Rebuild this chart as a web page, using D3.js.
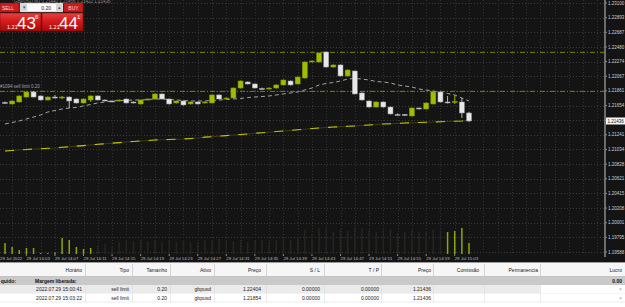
<!DOCTYPE html>
<html>
<head>
<meta charset="utf-8">
<script src="https://cdn.jsdelivr.net/npm/d3@7"></script>
<style>
body { margin: 0; background: #fff; overflow: hidden; }
text { font-family: "Liberation Sans", Arial, sans-serif; }
</style>
</head>
<body>
<div id="chart"></div>
<script>
var opens = [1.21697,1.21676,1.21704,1.21774,1.21845,1.21789,1.21732,1.21774,1.21760,1.21774,
    1.21746,1.21690,1.21732,1.21789,1.21732,1.21718,1.21718,1.21746,1.21704,1.21676,
    1.21732,1.21746,1.21817,1.21746,1.21690,1.21718,1.21676,1.21704,1.21690,1.21690,
    1.21803,1.21746,1.21760,1.21901,1.21986,1.21958,1.21894,1.21887,1.21901,1.21944,
    1.22000,1.21958,1.22042,1.22268,1.22268,1.22409,1.22197,1.22226,1.22071,1.22141,
    1.21831,1.21718,1.21633,1.21704,1.21633,1.21528,1.21528,1.21507,1.21619,1.21605,
    1.21676,1.21845,1.21704,1.21697,1.21704,1.21549];
var highs = [1.21711,1.21725,1.21796,1.21852,1.21859,1.21796,1.21781,1.21803,1.21789,1.21781,
    1.21753,1.21753,1.21796,1.21796,1.21739,1.21725,1.21739,1.21753,1.21711,1.21739,
    1.21753,1.21824,1.21824,1.21753,1.21725,1.21725,1.21711,1.21711,1.21711,1.21810,
    1.21810,1.21767,1.21908,1.22007,1.21993,1.21965,1.21908,1.21908,1.21951,1.22021,
    1.22007,1.22063,1.22275,1.22289,1.22402,1.22416,1.22233,1.22233,1.22162,1.22148,
    1.21838,1.21725,1.21711,1.21711,1.21640,1.21542,1.21535,1.21626,1.21626,1.21697,
    1.21852,1.21852,1.21789,1.21803,1.21760,1.21563];
var lows = [1.21676,1.21669,1.21697,1.21767,1.21767,1.21725,1.21725,1.21753,1.21746,1.21619,
    1.21683,1.21683,1.21704,1.21725,1.21711,1.21704,1.21711,1.21683,1.21683,1.21669,
    1.21725,1.21739,1.21739,1.21669,1.21683,1.21655,1.21669,1.21669,1.21683,1.21683,
    1.21739,1.21739,1.21753,1.21894,1.21951,1.21894,1.21880,1.21880,1.21894,1.21937,
    1.21937,1.21951,1.22035,1.22261,1.22261,1.22190,1.22190,1.22064,1.22064,1.21810,
    1.21725,1.21626,1.21626,1.21626,1.21528,1.21514,1.21507,1.21500,1.21598,1.21598,
    1.21669,1.21697,1.21683,1.21676,1.21479,1.21422];
var closes = [1.21690,1.21718,1.21789,1.21845,1.21774,1.21732,1.21774,1.21760,1.21774,1.21718,
    1.21690,1.21746,1.21789,1.21732,1.21718,1.21711,1.21732,1.21690,1.21690,1.21732,
    1.21746,1.21817,1.21746,1.21676,1.21718,1.21662,1.21704,1.21676,1.21704,1.21803,
    1.21746,1.21760,1.21901,1.22000,1.21958,1.21901,1.21887,1.21901,1.21944,1.22014,
    1.21944,1.22056,1.22268,1.22282,1.22395,1.22197,1.22226,1.22071,1.22155,1.21817,
    1.21732,1.21633,1.21704,1.21633,1.21535,1.21521,1.21514,1.21619,1.21605,1.21690,
    1.21845,1.21704,1.21690,1.21711,1.21549,1.21436];

// moving averages
var maFast = [1.21394,1.21415,1.21436,1.21464,1.21492,1.21521,1.21563,1.21584,1.21605,1.21619,
    1.21626,1.21648,1.21669,1.21690,1.21704,1.21718,1.21725,1.21725,1.21732,1.21732,
    1.21739,1.21746,1.21746,1.21739,1.21732,1.21725,1.21718,1.21718,1.21718,1.21725,
    1.21732,1.21739,1.21746,1.21753,1.21767,1.21774,1.21781,1.21789,1.21803,1.21817,
    1.21831,1.21845,1.21873,1.21901,1.21944,1.21965,1.21979,1.22000,1.22028,1.22035,
    1.22028,1.22014,1.21993,1.21986,1.21972,1.21944,1.21929,1.21915,1.21887,1.21873,
    1.21859,1.21838,1.21824,1.21803,1.21760,1.21718];
var maSlow = [1.21013,1.21020,1.21027,1.21034,1.21041,1.21045,1.21051,1.21055,1.21065,1.21072,
    1.21081,1.21089,1.21098,1.21107,1.21115,1.21123,1.21131,1.21140,1.21147,1.21154,
    1.21161,1.21168,1.21171,1.21175,1.21179,1.21182,1.21189,1.21196,1.21208,1.21213,
    1.21222,1.21230,1.21239,1.21246,1.21253,1.21263,1.21270,1.21278,1.21287,1.21295,
    1.21303,1.21312,1.21320,1.21329,1.21337,1.21344,1.21351,1.21356,1.21361,1.21366,
    1.21373,1.21380,1.21387,1.21394,1.21398,1.21402,1.21408,1.21411,1.21415,1.21419,
    1.21422,1.21426,1.21429,1.21433,1.21436,1.21443];

var volumes = [44,28,16,24,24,4,4,6,64,56,28,20,24,
    36,40,32,48,56,52,56,52,56,48,56,48,56,48,48,56,52,60,56,52,56,48,52,56,48,56,60,56,68,
    96,80,104,108,88,100,92,108,104,96,88,96,100,84,88,96,88,92,100,96,
    88,92,104,44];

var priceTicks = ["1.23100","1.22893","1.22687","1.22480","1.22274","1.22067","1.21861","1.21654","1.21447",
    "1.21241","1.21034","1.20828","1.20621","1.20415","1.20208","1.20001","1.19795","1.19588"];
var timeIdx = [-1, 3, 7, 11, 15, 19, 23, 27, 31, 35, 39, 43, 47, 51, 55, 59, 63];
var timeLabels = ["29 Jul 2022", "29 Jul 14:03", "29 Jul 14:07", "29 Jul 14:11", "29 Jul 14:15", "29 Jul 14:19",
    "29 Jul 14:23", "29 Jul 14:27", "29 Jul 14:31", "29 Jul 14:35", "29 Jul 14:39", "29 Jul 14:43",
    "29 Jul 14:47", "29 Jul 14:51", "29 Jul 14:55", "29 Jul 14:59", "29 Jul 15:03"];

var bid = 1.21436;
var orderPrices = [1.22404, 1.21854];

var headers = ["Horário", "Tipo", "Tamanho", "Ativo", "Preço", "S / L", "T / P", "Preço", "Comissão", "Permanencia", "Lucro"];
var orders = [
    ["2022.07.29 15:00:41", "sell limit", "0.20", "gbpusd", "1.22404", "0.00000", "0.00000", "1.21436", "", "", "×"],
    ["2022.07.29 15:03:22", "sell limit", "0.20", "gbpusd", "1.21854", "0.00000", "0.00000", "1.21436", "", "", "×"]
];

var W = 625, H = 307, plotBottom = 254, axisX = 605;

var svg = d3.select("#chart").append("svg")
    .attr("width", W)
    .attr("height", H);

svg.append("rect").attr("width", W).attr("height", 262).attr("fill", "#141414");

var x = d3.scaleLinear().domain([0, 65]).range([5, 469]);
var y = d3.scaleLinear().domain([1.19560, 1.23100]).range([plotBottom, 3]);
var yv = d3.scaleLinear().domain([0, 120]).range([plotBottom, 224]);

// grid
svg.append("g").selectAll("line").data(priceTicks).enter().append("line")
    .attr("x1", 0).attr("x2", axisX)
    .attr("y1", function (d) { return Math.round(y(+d)) + 0.5; })
    .attr("y2", function (d) { return Math.round(y(+d)) + 0.5; })
    .attr("stroke", "#3a3a3a").attr("stroke-dasharray", "1,2");

svg.append("g").selectAll("line").data(d3.range(1, 85, 2)).enter().append("line")
    .attr("x1", function (d) { return Math.round(x(d)) + 0.5; })
    .attr("x2", function (d) { return Math.round(x(d)) + 0.5; })
    .attr("y1", 0).attr("y2", plotBottom)
    .attr("stroke", "#333333").attr("stroke-dasharray", "1,2");

// volumes
svg.append("g").selectAll("rect").data(volumes).enter().append("rect")
    .attr("x", function (d, i) { return x(i) - 0.75; })
    .attr("width", 1.5)
    .attr("y", function (d) { return yv(d); })
    .attr("height", function (d) { return plotBottom - yv(d); })
    .attr("fill", function (d, i) { return (i < 13 || i > 61) ? "#8ea800" : "#262620"; });

// order lines
svg.append("g").selectAll("line").data(orderPrices).enter().append("line")
    .attr("x1", 0).attr("x2", axisX)
    .attr("y1", function (d) { return y(d); })
    .attr("y2", function (d) { return y(d); })
    .attr("stroke", "#6f8a00").attr("stroke-width", 1)
    .attr("stroke-dasharray", "5,2,1,2");

svg.append("text").attr("x", 0).attr("y", y(orderPrices[1]) - 3)
    .attr("font-size", 4.5).attr("fill", "#9aa0b8")
    .text("#1094 sell limit 0.20");

var line = d3.line()
    .x(function (d, i) { return x(i); })
    .y(function (d) { return y(d); });

svg.append("path").datum(maSlow)
    .attr("fill", "none").attr("stroke", "#3a3a0c").attr("stroke-width", 1.1)
    .attr("d", line);
svg.append("path").datum(maSlow)
    .attr("fill", "none").attr("stroke", "#c4c400").attr("stroke-width", 1.1)
    .attr("stroke-dasharray", "9,9")
    .attr("d", line);

svg.append("path").datum(maFast)
    .attr("fill", "none").attr("stroke", "#a4a4a4").attr("stroke-width", 1)
    .attr("stroke-dasharray", "4,3")
    .attr("d", line);

// candles
var candles = svg.append("g").selectAll("g").data(opens).enter().append("g");
candles.append("line")
    .attr("x1", function (d, i) { return x(i); })
    .attr("x2", function (d, i) { return x(i); })
    .attr("y1", function (d, i) { return y(highs[i]); })
    .attr("y2", function (d, i) { return y(lows[i]); })
    .attr("stroke", function (d, i) { return closes[i] >= opens[i] ? "#8fb000" : "#b8b8b8"; });
candles.append("rect")
    .attr("x", function (d, i) { return x(i) - 2.5; })
    .attr("width", 5)
    .attr("y", function (d, i) { return y(Math.max(opens[i], closes[i])); })
    .attr("height", function (d, i) { return Math.max(1, Math.abs(y(opens[i]) - y(closes[i]))); })
    .attr("fill", function (d, i) { return closes[i] >= opens[i] ? "#9cbf00" : "#e8e8e8"; })
    .attr("stroke", function (d, i) { return closes[i] >= opens[i] ? "#7a9600" : "#9a9a9a"; })
    .attr("stroke-width", 0.5);

// price axis
svg.append("line").attr("x1", axisX).attr("x2", axisX).attr("y1", 0).attr("y2", 257)
    .attr("stroke", "#8a8a8a").attr("stroke-width", 1.5);
var pt = svg.append("g").selectAll("g").data(priceTicks).enter().append("g");
pt.append("line")
    .attr("x1", axisX).attr("x2", axisX + 2)
    .attr("y1", function (d) { return y(+d); })
    .attr("y2", function (d) { return y(+d); })
    .attr("stroke", "#8a8a8a");
pt.append("text")
    .attr("x", 608).attr("y", function (d) { return y(+d) + 1.6; })
    .attr("font-size", 4.5).attr("fill", "#cfcfcf")
    .text(function (d) { return d; });

svg.append("rect").attr("x", 606).attr("y", y(bid) - 3.5).attr("width", 19).attr("height", 7).attr("fill", "#f4f4f4");
svg.append("text").attr("x", 607.5).attr("y", y(bid) + 1.6)
    .attr("font-size", 4.5).attr("fill", "#111").text(d3.format(".5f")(bid));

// time axis
var tl = svg.append("g").selectAll("g").data(timeLabels).enter().append("g");
tl.append("line")
    .attr("x1", function (d, i) { return x(timeIdx[i]); })
    .attr("x2", function (d, i) { return x(timeIdx[i]); })
    .attr("y1", plotBottom).attr("y2", plotBottom + 2)
    .attr("stroke", "#8a8a8a");
tl.append("text")
    .attr("x", function (d, i) { return Math.max(0, x(timeIdx[i])); })
    .attr("y", 260)
    .attr("font-size", 4.3).attr("fill", "#bdbdbd")
    .text(function (d) { return d; });

// chart title line (mostly hidden under panel)
svg.append("text").attr("x", 14).attr("y", 3).attr("font-size", 4.5).attr("fill", "#8a8a8a")
    .text("GBPUSD,M1  1.21442 1.21456 1.21422 1.21436");

// one click trading panel
var defs = svg.append("defs");
var grad = defs.append("linearGradient").attr("id", "red").attr("x1", 0).attr("x2", 0).attr("y1", 0).attr("y2", 1);
grad.append("stop").attr("offset", "0%").attr("stop-color", "#e84040");
grad.append("stop").attr("offset", "45%").attr("stop-color", "#d41c1c");
grad.append("stop").attr("offset", "100%").attr("stop-color", "#a80a0a");

var panel = svg.append("g");
panel.append("rect").attr("x", 0).attr("y", 3).attr("width", 19).attr("height", 9).attr("fill", "#c81e1e").attr("stroke", "#8a0c0c").attr("stroke-width", 0.5);
panel.append("text").attr("x", 8).attr("y", 9.6).attr("text-anchor", "middle").attr("font-size", 5).attr("fill", "#f4dada").text("SELL");
panel.append("rect").attr("x", 20).attr("y", 3).attr("width", 43).attr("height", 9).attr("fill", "#fafafa").attr("stroke", "#8a8a8a").attr("stroke-width", 0.5);
panel.append("rect").attr("x", 21).attr("y", 4).attr("width", 6).attr("height", 7).attr("fill", "#d6d6d6");
panel.append("rect").attr("x", 56).attr("y", 4).attr("width", 6).attr("height", 7).attr("fill", "#d6d6d6");
panel.append("text").attr("x", 24).attr("y", 9.2).attr("text-anchor", "middle").attr("font-size", 4.5).attr("fill", "#555").text("▾");
panel.append("text").attr("x", 59).attr("y", 9.2).attr("text-anchor", "middle").attr("font-size", 4.5).attr("fill", "#555").text("▴");
panel.append("text").attr("x", 51).attr("y", 9.5).attr("text-anchor", "end").attr("font-size", 5).attr("fill", "#222").text("0.20");
panel.append("rect").attr("x", 64).attr("y", 3).attr("width", 19).attr("height", 9).attr("fill", "#c81e1e").attr("stroke", "#8a0c0c").attr("stroke-width", 0.5);
panel.append("text").attr("x", 73.5).attr("y", 9.6).attr("text-anchor", "middle").attr("font-size", 5).attr("fill", "#f4dada").text("BUY");

[["43", "6", 0], ["44", "1", 42]].forEach(function (q) {
    var g = panel.append("g").attr("transform", "translate(" + q[2] + ",0)");
    g.append("rect").attr("x", 0).attr("y", 13).attr("width", 41).attr("height", 18)
        .attr("fill", "url(#red)").attr("stroke", "#7a0606").attr("stroke-width", 0.5);
    g.append("text").attr("x", 7).attr("y", 28.5).attr("font-size", 5.5).attr("fill", "#fff").text("1.21");
    g.append("text").attr("x", 17).attr("y", 29).attr("font-size", 17).attr("fill", "#fff").text(q[0]);
    g.append("text").attr("x", 35).attr("y", 19).attr("font-size", 6).attr("fill", "#fff").text(q[1]);
});

// terminal table
var colRight = [82, 129, 167, 211, 261, 320, 379, 431, 479, 538, 622];
var colSep = [85, 132, 170, 214, 266, 324, 381, 433, 484, 540];
var tbl = svg.append("g");
tbl.append("rect").attr("x", 0).attr("y", 262).attr("width", W).attr("height", 45).attr("fill", "#ffffff");
tbl.append("line").attr("x1", 0).attr("x2", W).attr("y1", 262.5).attr("y2", 262.5).attr("stroke", "#9a9a9a");
tbl.append("rect").attr("x", 0).attr("y", 263).attr("width", W).attr("height", 13).attr("fill", "#f6f6f6");
tbl.append("line").attr("x1", 0).attr("x2", W).attr("y1", 276.5).attr("y2", 276.5).attr("stroke", "#c4c4c4");
tbl.selectAll(".hs").data(colSep).enter().append("line")
    .attr("x1", function (d) { return d + 0.5; }).attr("x2", function (d) { return d + 0.5; })
    .attr("y1", 264).attr("y2", 276).attr("stroke", "#d4d4d4");
tbl.selectAll(".ht").data(headers).enter().append("text")
    .attr("x", function (d, i) { return colRight[i]; }).attr("y", 272)
    .attr("text-anchor", "end").attr("font-size", 5).attr("fill", "#222")
    .text(function (d) { return d; });

tbl.append("rect").attr("x", 0).attr("y", 277).attr("width", W).attr("height", 8).attr("fill", "#c9c9c9");
tbl.append("text").attr("x", 16).attr("y", 283).attr("text-anchor", "end").attr("font-size", 5).attr("font-weight", "bold").attr("fill", "#111").text("quido:");
tbl.append("text").attr("x", 35).attr("y", 283).attr("font-size", 5).attr("font-weight", "bold").attr("fill", "#111").text("Margem liberada:");
tbl.append("text").attr("x", 622).attr("y", 283).attr("text-anchor", "end").attr("font-size", 5).attr("font-weight", "bold").attr("fill", "#111").text("0.00");

orders.forEach(function (row, r) {
    var top = 285 + r * 8.5;
    tbl.append("rect").attr("x", 0).attr("y", top).attr("width", W).attr("height", 8.5)
        .attr("fill", r === 0 ? "#ebebeb" : "#ffffff");
    if (r === 0) tbl.append("rect").attr("x", 540).attr("y", top).attr("width", 85).attr("height", 8.5).attr("fill", "#ffffff");
    tbl.append("line").attr("x1", 0).attr("x2", W).attr("y1", top + 8.5).attr("y2", top + 8.5).attr("stroke", "#d6d6d6").attr("stroke-width", 0.5);
    colSep.forEach(function (s) {
        tbl.append("line").attr("x1", s + 0.5).attr("x2", s + 0.5).attr("y1", top).attr("y2", top + 8.5)
            .attr("stroke", "#d6d6d6").attr("stroke-width", 0.5);
    });
    row.forEach(function (v, c) {
        tbl.append("text").attr("x", colRight[c]).attr("y", top + 6)
            .attr("text-anchor", "end").attr("font-size", 5)
            .attr("fill", c === 10 ? "#a0a0a0" : "#1a1a1a")
            .text(v);
    });
});
</script>
</body>
</html>
